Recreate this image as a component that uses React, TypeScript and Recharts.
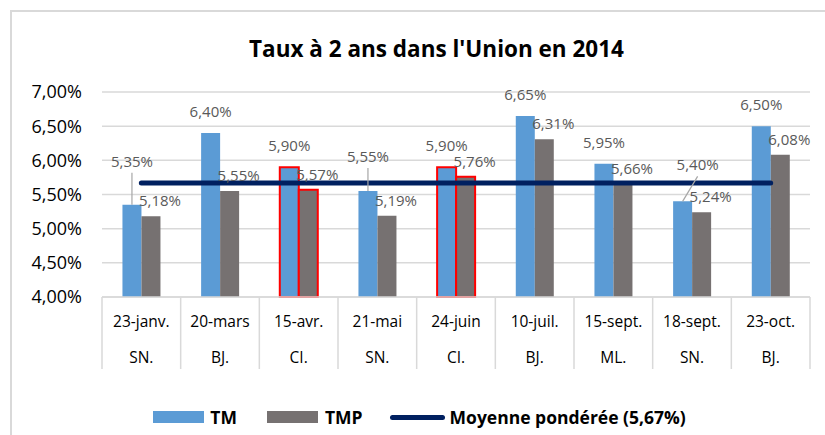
import { Bar, CartesianGrid, Cell, ComposedChart, LabelList, Legend, Line, XAxis, YAxis } from 'recharts'

const dates = ['23-janv.', '20-mars', '15-avr.', '21-mai', '24-juin', '10-juil.', '15-sept.', '18-sept.', '23-oct.']
const countries = ['SN.', 'BJ.', 'CI.', 'SN.', 'CI.', 'BJ.', 'ML.', 'SN.', 'BJ.']
const tm = [5.35, 6.4, 5.9, 5.55, 5.9, 6.65, 5.95, 5.4, 6.5]
const tmp = [5.18, 5.55, 5.57, 5.19, 5.76, 6.31, 5.66, 5.24, 6.08]
const average = 5.67
const highlighted = [2, 4]
const yTicks = [4, 4.5, 5, 5.5, 6, 6.5, 7]

// labels Excel pulled up with a leader line: [dx, extra lift]
const leaderLabels: Record<number, [number, number]> = { 0: [0, 22], 3: [0, 13], 7: [15, 15] }

const W = 825
const H = 435
const PLOT_LEFT = 102
const PLOT_RIGHT = 810
const BAND = (PLOT_RIGHT - PLOT_LEFT) / dates.length
const FONT = '"Open Sans", sans-serif'
const GRID = '#d9d9d9'
const TEXT = '#595959'

const data = dates.map((d, i) => ({ date: d, country: countries[i], tm: tm[i], tmp: tmp[i], avg: average }))

const pct = (v: number) => v.toFixed(2).replace('.', ',') + '%'

function CategoryTick(props: any) {
  const { x, y, index, payload } = props
  const last = index === dates.length - 1
  return (
    <g>
      <line x1={x - BAND / 2} x2={x - BAND / 2} y1={y} y2={y + 72} stroke={GRID} strokeWidth={1.5} />
      {last && <line x1={x + BAND / 2} x2={x + BAND / 2} y1={y} y2={y + 72} stroke={GRID} strokeWidth={1.5} />}
      <text x={x} y={y + 30} textAnchor="middle" fontFamily={FONT} fontSize={15.5} fill="#000">
        {payload.value}
      </text>
      <text x={x} y={y + 66} textAnchor="middle" fontFamily={FONT} fontSize={15.5} fill="#000">
        {countries[index]}
      </text>
    </g>
  )
}

function TmLabel(props: any) {
  const { x, y, width, value, index } = props
  const cx = x + width / 2
  const nudge = leaderLabels[index]
  if (!nudge) {
    return (
      <text x={cx} y={y - 16} textAnchor="middle" fontFamily={FONT} fontSize={15} fill={TEXT}>
        {pct(value)}
      </text>
    )
  }
  const [dx, lift] = nudge
  const ly = y - 16 - lift
  return (
    <g>
      <line x1={cx + dx} y1={ly + 6} x2={cx} y2={y} stroke="#a6a6a6" strokeWidth={1.2} />
      <text x={cx + dx} y={ly} textAnchor="middle" fontFamily={FONT} fontSize={15} fill={TEXT}>
        {pct(value)}
      </text>
    </g>
  )
}

function TmpLabel(props: any) {
  const { x, y, width, value } = props
  return (
    <text x={x + width / 2 + 9} y={y - 10} textAnchor="middle" fontFamily={FONT} fontSize={15} fill={TEXT}>
      {pct(value)}
    </text>
  )
}

function LegendContent() {
  const label = { fontFamily: FONT, fontWeight: 700, fontSize: 17.5, color: '#000' }
  return (
    <div style={{ display: 'flex', alignItems: 'center', justifyContent: 'center', gap: 0, paddingLeft: 14 }}>
      <span style={{ width: 51, height: 12, background: '#5b9bd5', marginRight: 6 }} />
      <span style={{ ...label, marginRight: 30 }}>TM</span>
      <span style={{ width: 51, height: 12, background: '#767171', marginRight: 7 }} />
      <span style={{ ...label, marginRight: 27 }}>TMP</span>
      <span style={{ width: 55, height: 5, borderRadius: 3, background: '#002060', marginRight: 5 }} />
      <span style={label}>Moyenne pondérée (5,67%)</span>
    </div>
  )
}

export default function App() {
  return (
    <div style={{ position: 'absolute', left: 0, top: 0, width: W, height: H, overflow: 'hidden', background: '#fff' }}>
      <div
        style={{
          position: 'absolute',
          left: 10,
          top: 10,
          width: W,
          height: H,
          border: `2px solid ${GRID}`,
        }}
      />
      <div
        style={{
          position: 'absolute',
          left: 0,
          width: W,
          top: 33,
          paddingLeft: 48,
          boxSizing: 'border-box',
          textAlign: 'center',
          fontFamily: FONT,
          fontWeight: 700,
          fontSize: 22.5,
          color: '#000',
        }}
      >
        Taux à 2 ans dans l'Union en 2014
      </div>
      <ComposedChart
        width={W}
        height={H}
        data={data}
        margin={{ top: 92, right: W - PLOT_RIGHT, left: 0, bottom: 63 }}
        barCategoryGap="26%"
        barGap={0}
        style={{ position: 'absolute', left: 0, top: 0 }}
      >
        <CartesianGrid vertical={false} stroke={GRID} strokeWidth={1.5} />
        <XAxis
          dataKey="date"
          height={75}
          tickLine={false}
          tickSize={0}
          tickMargin={0}
          interval={0}
          axisLine={{ stroke: GRID, strokeWidth: 1.5 }}
          tick={<CategoryTick />}
        />
        <YAxis
          width={PLOT_LEFT}
          domain={[4, 7]}
          ticks={yTicks}
          axisLine={false}
          tickLine={false}
          tickMargin={14}
          tickFormatter={pct}
          tick={{ fontFamily: FONT, fontSize: 18, fill: '#000' }}
        />
        <Bar dataKey="tm" name="TM" fill="#5b9bd5" isAnimationActive={false}>
          {data.map((_, i) => (
            <Cell key={i} stroke={highlighted.includes(i) ? '#ff0000' : 'none'} strokeWidth={2} />
          ))}
          <LabelList dataKey="tm" content={<TmLabel />} />
        </Bar>
        <Bar dataKey="tmp" name="TMP" fill="#767171" isAnimationActive={false}>
          {data.map((_, i) => (
            <Cell key={i} stroke={highlighted.includes(i) ? '#ff0000' : 'none'} strokeWidth={2} />
          ))}
          <LabelList dataKey="tmp" content={<TmpLabel />} />
        </Bar>
        <Line
          dataKey="avg"
          name="Moyenne pondérée (5,67%)"
          stroke="#002060"
          strokeWidth={5}
          strokeLinecap="round"
          dot={false}
          activeDot={false}
          isAnimationActive={false}
        />
        <Legend
          layout="horizontal"
          verticalAlign="middle"
          align="center"
          content={<LegendContent />}
          wrapperStyle={{ top: 405, left: 0, width: W }}
        />
      </ComposedChart>
    </div>
  )
}
